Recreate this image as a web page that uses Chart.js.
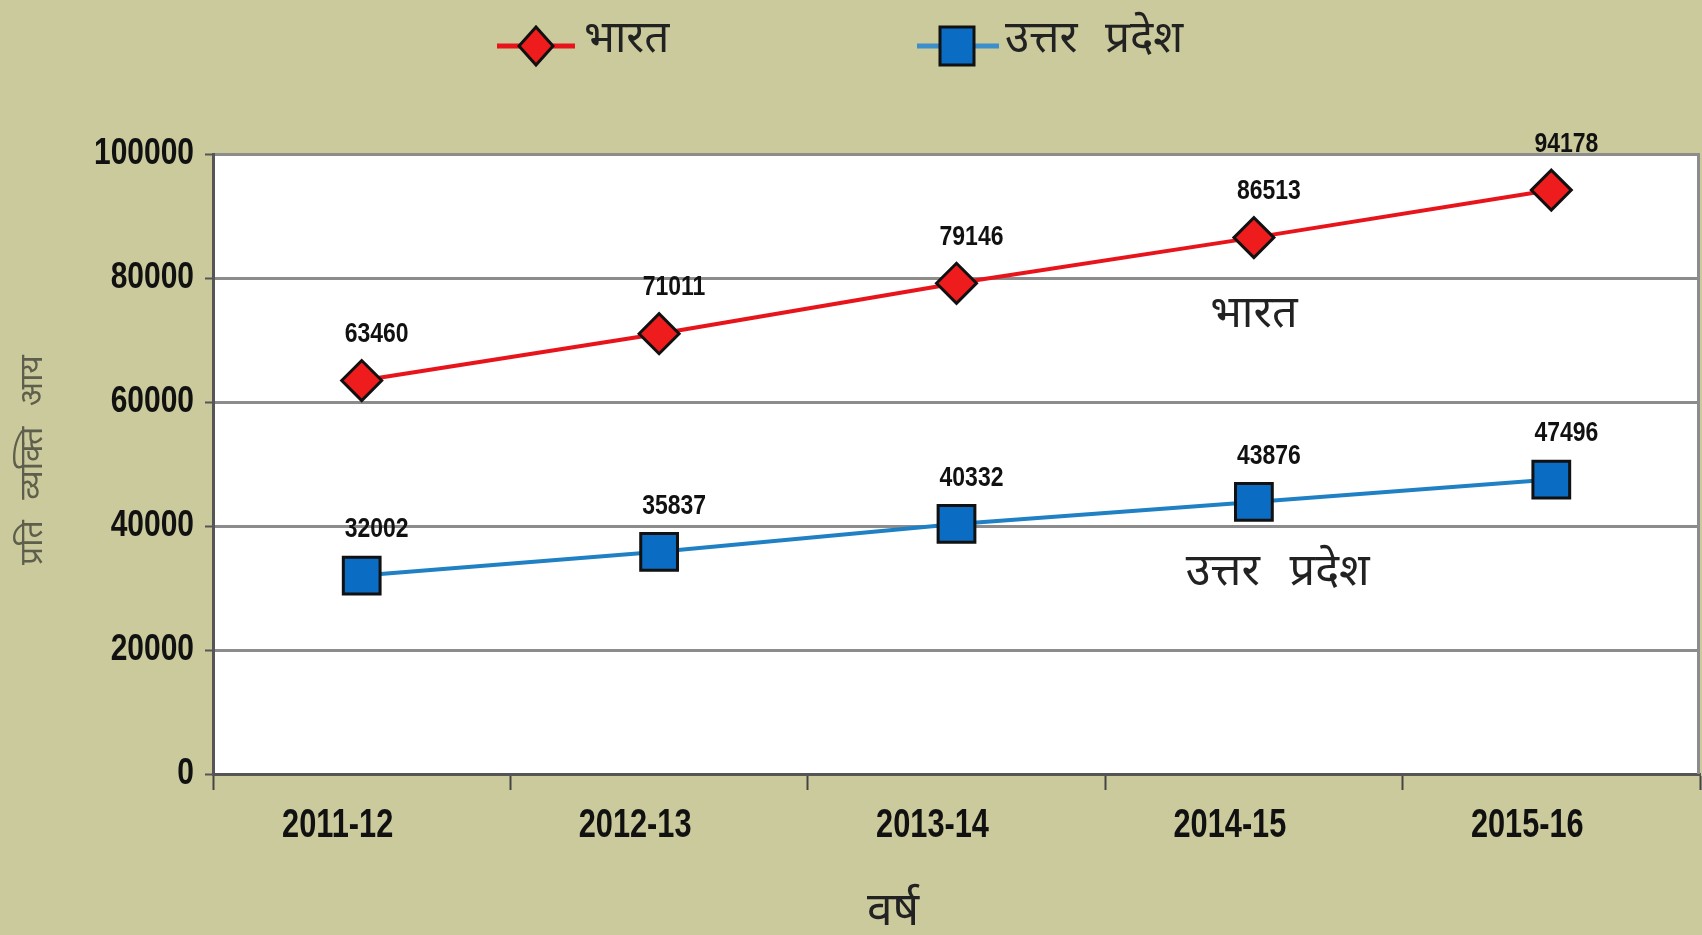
<!DOCTYPE html>
<html>
<head>
<meta charset="utf-8">
<script src="https://cdn.jsdelivr.net/npm/chart.js@4/dist/chart.umd.min.js"></script>
<style>
  html, body { margin: 0; padding: 0; background: #cbca9c; overflow: hidden; }
  canvas { display: block; }
</style>
</head>
<body>
<canvas id="chart" width="1702" height="935"></canvas>
<script>
// values
const years = ['2011-12', '2012-13', '2013-14', '2014-15', '2015-16']
const bharat = [63460, 71011, 79146, 86513, 94178]
const uttarPradesh = [32002, 35837, 40332, 43876, 47496]
const yTicks = [0, 20000, 40000, 60000, 80000, 100000]
const seriesNames = ['भारत', 'उत्तर प्रदेश']
const xTitle = 'वर्ष'
const yTitle = 'प्रति व्यक्ति आय'
// where the in-plot series names sit (category index, value)
const nameAnchors = [[3, 73400], [3.08, 31900]]

const SANS = "'Liberation Sans', Arial, sans-serif"
const DEVA = "'Noto Sans Devanagari', 'Lohit Devanagari', 'FreeSans', 'Noto Sans', sans-serif"
const BG = '#cbca9c'

// the original uses a narrow bold face, so squeeze Liberation Sans sideways
function narrowText(ctx, text, x, y, size, sx, align) {
  ctx.save()
  ctx.font = `bold ${size}px ${SANS}`
  ctx.textAlign = align
  ctx.textBaseline = 'middle'
  ctx.fillStyle = '#111'
  ctx.translate(x, y)
  ctx.scale(sx, 1)
  ctx.fillText(text, 0, 0)
  ctx.restore()
}

function marker(ctx, shape, x, y, fill) {
  ctx.save()
  ctx.fillStyle = fill
  ctx.strokeStyle = '#111'
  ctx.lineWidth = 3
  ctx.beginPath()
  if (shape === 'rectRot') {
    ctx.moveTo(x, y - 19)
    ctx.lineTo(x + 17, y)
    ctx.lineTo(x, y + 19)
    ctx.lineTo(x - 17, y)
    ctx.closePath()
  } else {
    ctx.rect(x - 17, y - 19, 34, 38)
  }
  ctx.fill()
  ctx.stroke()
  ctx.restore()
}

const framePlugin = {
  id: 'frame',
  beforeDraw(chart) {
    const { ctx, chartArea: a } = chart
    ctx.save()
    ctx.fillStyle = BG
    ctx.fillRect(0, 0, chart.width, chart.height)
    ctx.fillStyle = '#fff'
    ctx.fillRect(a.left, a.top, a.width, a.height)
    ctx.restore()
  },
  beforeDatasetsDraw(chart) {
    const { ctx, chartArea: a } = chart
    ctx.save()
    ctx.strokeStyle = '#8c8c8c'
    ctx.lineWidth = 3
    ctx.beginPath()
    ctx.moveTo(a.right - 1.5, a.top)
    ctx.lineTo(a.right - 1.5, a.bottom)
    ctx.stroke()
    ctx.restore()
  },
  afterDatasetsDraw(chart) {
    const { ctx } = chart
    chart.data.datasets.forEach((ds, i) => {
      chart.getDatasetMeta(i).data.forEach((pt, j) => {
        narrowText(ctx, String(ds.data[j]), pt.x + 15, pt.y - 46, 28, 0.82, 'center')
      })
    })

    // series names inside the plot
    const xs = chart.scales.x, ys = chart.scales.y
    const step = xs.getPixelForValue(1) - xs.getPixelForValue(0)
    ctx.save()
    ctx.font = `45px ${DEVA}`
    ctx.wordSpacing = '18px'
    ctx.fillStyle = '#222'
    ctx.textAlign = 'center'
    ctx.textBaseline = 'middle'
    nameAnchors.forEach(([idx, v], i) => {
      const base = Math.floor(idx)
      const x = xs.getPixelForValue(base) + (idx - base) * step
      ctx.fillText(seriesNames[i], x, ys.getPixelForValue(v))
    })
    ctx.restore()
  },
  afterDraw(chart) {
    const { ctx, chartArea: a } = chart
    const xs = chart.scales.x, ys = chart.scales.y

    // tick labels
    yTicks.forEach(v => narrowText(ctx, String(v), a.left - 19, ys.getPixelForValue(v), 37, 0.81, 'right'))
    years.forEach((y, i) => narrowText(ctx, y, xs.getPixelForValue(i) - 24, 826, 41, 0.75, 'center'))

    ctx.save()
    // legend at the top
    const legend = [
      { x0: 497, x1: 575, mx: 536, tx: 584, line: '#e8141b', fill: '#ee1c1c', shape: 'rectRot' },
      { x0: 917, x1: 999, mx: 957, tx: 1005, line: '#3d8fc9', fill: '#0a6cc2', shape: 'rect' }
    ]
    legend.forEach((it, i) => {
      ctx.strokeStyle = it.line
      ctx.lineWidth = 5
      ctx.beginPath()
      ctx.moveTo(it.x0, 46)
      ctx.lineTo(it.x1, 46)
      ctx.stroke()
      marker(ctx, it.shape, it.mx, 46, it.fill)
      ctx.fillStyle = '#222'
      ctx.font = `44px ${DEVA}`
      ctx.wordSpacing = '16px'
      ctx.textAlign = 'left'
      ctx.textBaseline = 'middle'
      ctx.fillText(seriesNames[i], it.tx, 44)
    })

    // axis titles
    ctx.wordSpacing = '0px'
    ctx.textAlign = 'center'
    ctx.textBaseline = 'middle'
    ctx.fillStyle = '#222'
    ctx.font = `46px ${DEVA}`
    ctx.fillText(xTitle, a.left + 680, 916)

    ctx.translate(36, 460)
    ctx.rotate(-Math.PI / 2)
    ctx.fillStyle = '#5e5e4c'
    ctx.font = `32px ${DEVA}`
    ctx.wordSpacing = '12px'
    ctx.fillText(yTitle, 0, 0)
    ctx.restore()
  }
}

new Chart(document.getElementById('chart').getContext('2d'), {
  type: 'line',
  data: {
    labels: years,
    datasets: [
      {
        label: seriesNames[0],
        data: bharat,
        borderColor: '#e8141b',
        borderWidth: 4,
        pointStyle: 'rectRot',
        pointRadius: 20,
        pointBackgroundColor: '#ee1c1c',
        pointBorderColor: '#111',
        pointBorderWidth: 3,
        tension: 0
      },
      {
        label: seriesNames[1],
        data: uttarPradesh,
        borderColor: '#2080c4',
        borderWidth: 4,
        pointStyle: 'rect',
        pointRadius: 26,
        pointBackgroundColor: '#0a6cc2',
        pointBorderColor: '#111',
        pointBorderWidth: 3,
        tension: 0
      }
    ]
  },
  options: {
    responsive: false,
    animation: false,
    devicePixelRatio: 1,
    layout: { autoPadding: false, padding: { top: 154, right: 2, left: 0, bottom: 0 } },
    plugins: { legend: { display: false }, tooltip: { enabled: false } },
    scales: {
      x: {
        offset: true,
        afterFit(scale) {
          scale.height = 161
          scale.paddingLeft = 0
          scale.paddingRight = 0
        },
        grid: {
          offset: true,
          drawOnChartArea: false,
          drawTicks: true,
          tickLength: 16,
          tickColor: '#444',
          tickWidth: 2
        },
        border: { color: '#555', width: 3 },
        ticks: { display: false }
      },
      y: {
        min: 0,
        max: 100000,
        afterFit(scale) {
          scale.width = 213
          scale.paddingTop = 0
          scale.paddingBottom = 0
        },
        afterBuildTicks(scale) { scale.ticks = yTicks.map(v => ({ value: v })) },
        grid: {
          color: '#8c8c8c',
          lineWidth: 3,
          drawTicks: true,
          tickLength: 8,
          tickColor: '#555',
          tickWidth: 2
        },
        border: { color: '#555', width: 3 },
        ticks: { display: false }
      }
    }
  },
  plugins: [framePlugin]
})
</script>
</body>
</html>
